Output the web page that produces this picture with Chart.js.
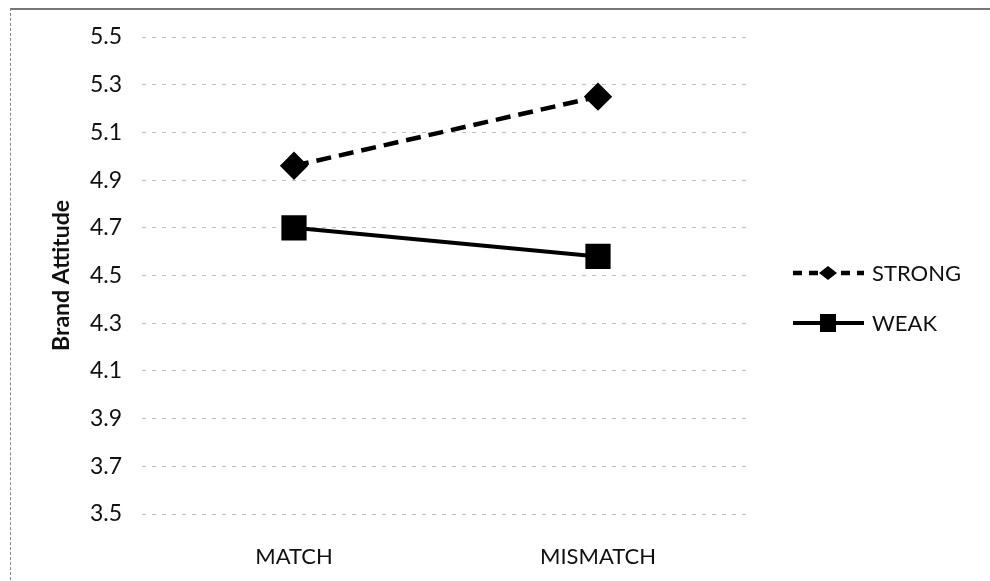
<!DOCTYPE html>
<html>
<head>
<meta charset="utf-8">
<script src="https://cdn.jsdelivr.net/npm/chart.js@4"></script>
<style>
  html, body { margin: 0; padding: 0; background: #fff; overflow: hidden; }
  #wrap { position: relative; width: 990px; height: 581px; }
  #frame { position: absolute; left: 10px; top: 8px; width: 990px; height: 600px;
           border-left: 1px dashed #888; border-top: 2px solid #777; }
  canvas { position: absolute; left: 0; top: 0; }
</style>
</head>
<body>
<div id="wrap">
  <div id="frame"></div>
  <canvas id="myChart" width="990" height="581"></canvas>
</div>
<script>
// categorias y datos
const categorias = ["MATCH", "MISMATCH"];
const valoresStrong = [4.96, 5.25];
const valoresWeak = [4.70, 4.58];
const tickMin = 3.5;
const tickMax = 5.5;
const tickPaso = 0.2;

const fuente = "Lato, 'Open Sans', sans-serif";

// leyenda a la derecha, con linea y marcador como en Excel
const leyendaLineas = {
  id: 'leyendaLineas',
  afterDraw(chart) {
    const ctx = chart.ctx;
    const x0 = 793, x1 = 864, xm = 828;
    const ys = [273, 323];
    chart.data.datasets.forEach((ds, i) => {
      const y = ys[i];
      ctx.save();
      ctx.strokeStyle = ds.borderColor;
      ctx.lineWidth = ds.borderWidth;
      ctx.setLineDash(ds.borderDash ? [9, 7] : []);
      ctx.beginPath();
      ctx.moveTo(x0, y);
      ctx.lineTo(x1, y);
      ctx.stroke();
      ctx.setLineDash([]);
      ctx.fillStyle = ds.pointBackgroundColor;
      if (ds.pointStyle === 'rect') {
        ctx.fillRect(xm - 8, y - 9, 16, 18);
      } else {
        ctx.beginPath();
        ctx.moveTo(xm - 9, y);
        ctx.lineTo(xm, y - 7);
        ctx.lineTo(xm + 9, y);
        ctx.lineTo(xm, y + 7);
        ctx.closePath();
        ctx.fill();
      }
      ctx.fillStyle = '#111';
      ctx.font = "22px " + fuente;
      ctx.textBaseline = 'middle';
      ctx.fillText(ds.label, 872, y + 1);
      ctx.restore();
    });
  }
};

const $grafica = document.getElementById("myChart");
new Chart($grafica, {
  type: 'line',
  data: {
    labels: categorias,
    datasets: [
      {
        label: 'STRONG',
        data: valoresStrong,
        borderColor: '#000',
        borderWidth: 4.5,
        borderDash: [15, 8],
        pointStyle: 'rectRot',
        pointRadius: 11,
        pointBackgroundColor: '#000',
        pointBorderColor: '#000',
        tension: 0
      },
      {
        label: 'WEAK',
        data: valoresWeak,
        borderColor: '#000',
        borderWidth: 4,
        pointStyle: 'rect',
        pointRadius: 15,
        pointBackgroundColor: '#000',
        pointBorderColor: '#000',
        tension: 0
      }
    ]
  },
  options: {
    responsive: false,
    animation: false,
    layout: { padding: { top: 37, right: 240, left: 0, bottom: 0 } },
    plugins: {
      legend: { display: false },
      tooltip: { enabled: false }
    },
    scales: {
      x: {
        offset: true,
        grid: { display: false },
        border: { display: false },
        ticks: { color: '#111', font: { family: fuente, size: 22 }, padding: 22 },
        afterFit(scale) { scale.height = 67; }
      },
      y: {
        min: tickMin,
        max: tickMax,
        border: { display: false, dash: [4, 6] },
        grid: { color: '#bdbdbd', lineWidth: 1, drawTicks: false },
        ticks: {
          stepSize: tickPaso,
          color: '#111',
          font: { family: fuente, size: 23 },
          padding: 20,
          callback: v => v.toFixed(1)
        },
        title: {
          display: true,
          text: 'Brand Attitude',
          color: '#111',
          font: { family: fuente, size: 23, weight: 'bold' },
          padding: { top: 48, bottom: 0 }
        },
        afterFit(scale) { scale.width = 142; }
      }
    }
  },
  plugins: [leyendaLineas]
});
</script>
</body>
</html>
